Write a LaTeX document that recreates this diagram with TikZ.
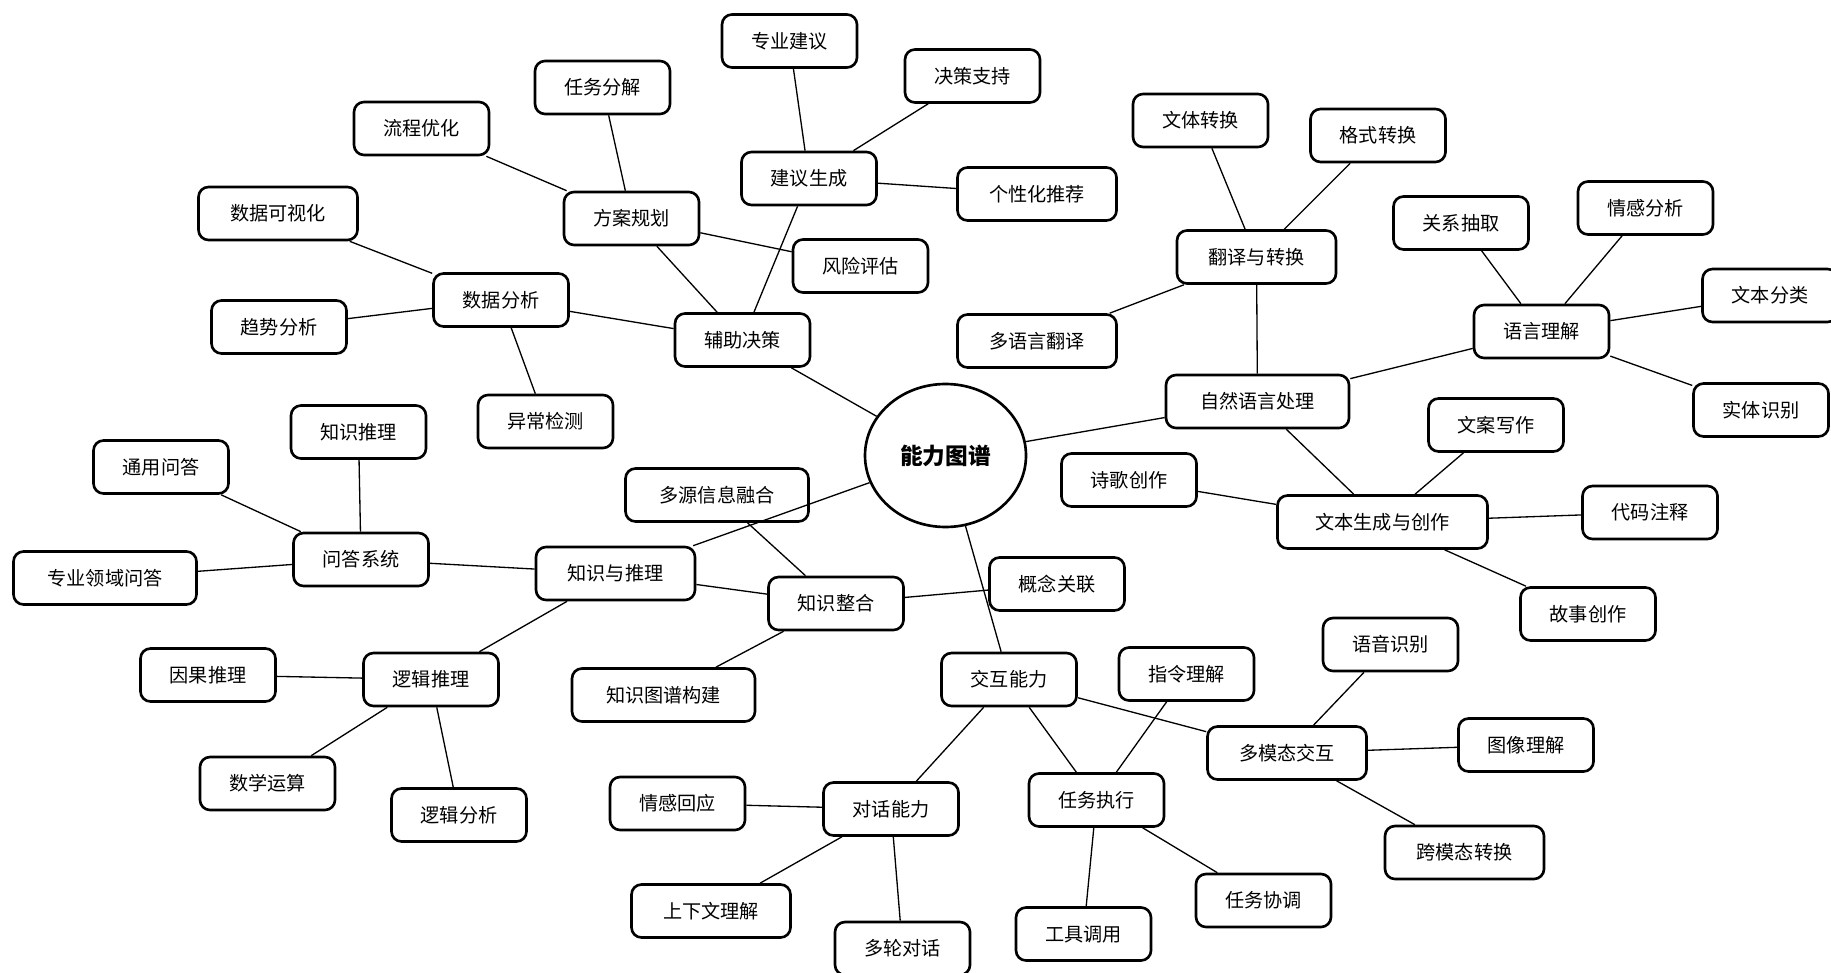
\documentclass[tikz,border=0pt]{standalone}
\usepackage{fontspec}
\usepackage{tikz}
\usetikzlibrary{shapes.geometric}
\newfontfamily\cjk{Noto Sans CJK SC}

\begin{document}
\begin{tikzpicture}[
		box/.style={draw, rounded corners=0.2cm, line width=1.5pt, minimum width=2.7cm, minimum height=1.06cm, font=\cjk\fontsize{10.9}{13}\selectfont},
		box5/.style={box, minimum width=3.18cm},
		box6/.style={box, minimum width=3.66cm},
		box7/.style={box, minimum width=4.2cm},
		hub/.style={ellipse, draw, line width=1.5pt, minimum width=3.22cm, minimum height=2.86cm, font=\cjk\bfseries\fontsize{12.9}{15}\selectfont},
		link/.style={line width=0.75pt}
	]
  \useasboundingbox (0cm, 0cm) rectangle (36.62cm, -19.46cm);
  \node (core) [hub] at (18.91cm, -9.11cm) {能力图谱};
  % aid branch
  \node (aid) [box] at (14.85cm, -6.80cm) {辅助决策};
  \node (plan) [box] at (12.63cm, -4.37cm) {方案规划};
  \node (advise) [box] at (16.18cm, -3.57cm) {建议生成};
  \node (data) [box] at (10.02cm, -6.00cm) {数据分析};
  \node (flow) [box] at (8.43cm, -2.57cm) {流程优化};
  \node (split) [box] at (12.05cm, -1.75cm) {任务分解};
  \node (risk) [box] at (17.21cm, -5.32cm) {风险评估};
  \node (expert) [box] at (15.79cm, -0.82cm) {专业建议};
  \node (support) [box] at (19.45cm, -1.52cm) {决策支持};
  \node (recommend) [box5] at (20.74cm, -3.88cm) {个性化推荐};
  \node (vis) [box5] at (5.56cm, -4.27cm) {数据可视化};
  \node (trend) [box] at (5.58cm, -6.54cm) {趋势分析};
  \node (anomaly) [box] at (10.91cm, -8.43cm) {异常检测};
  % nlp branch
  \node (nlp) [box6] at (25.15cm, -8.03cm) {自然语言处理};
  \node (trans) [box5] at (25.13cm, -5.14cm) {翻译与转换};
  \node (lu) [box] at (30.83cm, -6.63cm) {语言理解};
  \node (gen) [box7] at (27.65cm, -10.44cm) {文本生成与创作};
  \node (style_t) [box] at (24.01cm, -2.41cm) {文体转换};
  \node (format_t) [box] at (27.56cm, -2.71cm) {格式转换};
  \node (multi_t) [box5] at (20.74cm, -6.82cm) {多语言翻译};
  \node (rel) [box] at (29.22cm, -4.46cm) {关系抽取};
  \node (senti) [box] at (32.91cm, -4.16cm) {情感分析};
  \node (cls) [box] at (35.40cm, -5.91cm) {文本分类};
  \node (ner) [box] at (35.22cm, -8.20cm) {实体识别};
  \node (copy) [box] at (29.92cm, -8.50cm) {文案写作};
  \node (poem) [box] at (22.58cm, -9.60cm) {诗歌创作};
  \node (comment) [box] at (33.00cm, -10.25cm) {代码注释};
  \node (story) [box] at (31.76cm, -12.28cm) {故事创作};
  % knowledge branch
  \node (know) [box5] at (12.31cm, -11.47cm) {知识与推理};
  \node (qa) [box] at (7.22cm, -11.19cm) {问答系统};
  \node (logic) [box] at (8.62cm, -13.59cm) {逻辑推理};
  \node (merge) [box] at (16.72cm, -12.07cm) {知识整合};
  \node (k_infer) [box] at (7.17cm, -8.64cm) {知识推理};
  \node (qa_gen) [box] at (3.22cm, -9.34cm) {通用问答};
  \node (qa_dom) [box6] at (2.10cm, -11.56cm) {专业领域问答};
  \node (cause) [box] at (4.16cm, -13.50cm) {因果推理};
  \node (math) [box] at (5.35cm, -15.67cm) {数学运算};
  \node (l_ana) [box] at (9.18cm, -16.30cm) {逻辑分析};
  \node (fuse) [box6] at (14.34cm, -9.90cm) {多源信息融合};
  \node (concept) [box] at (21.14cm, -11.68cm) {概念关联};
  \node (kg) [box6] at (13.27cm, -13.90cm) {知识图谱构建};
  % interaction branch
  \node (inter) [box] at (20.18cm, -13.59cm) {交互能力};
  \node (dialog) [box] at (17.82cm, -16.18cm) {对话能力};
  \node (task) [box] at (21.93cm, -16.00cm) {任务执行};
  \node (mm) [box5] at (25.74cm, -15.06cm) {多模态交互};
  \node (emo) [box] at (13.55cm, -16.07cm) {情感回应};
  \node (ctx) [box5] at (14.22cm, -18.22cm) {上下文理解};
  \node (turns) [box] at (18.05cm, -18.97cm) {多轮对话};
  \node (instr) [box] at (23.73cm, -13.48cm) {指令理解};
  \node (tool) [box] at (21.67cm, -18.68cm) {工具调用};
  \node (coord) [box] at (25.27cm, -18.01cm) {任务协调};
  \node (asr) [box] at (27.81cm, -12.89cm) {语音识别};
  \node (img) [box] at (30.52cm, -14.90cm) {图像理解};
  \node (cross) [box5] at (29.29cm, -17.05cm) {跨模态转换};

  \draw [link] (core) -- (aid);
  \draw [link] (core) -- (nlp);
  \draw [link] (core) -- (know);
  \draw [link] (core) -- (inter);
  \draw [link] (aid) -- (plan);
  \draw [link] (aid) -- (advise);
  \draw [link] (aid) -- (data);
  \draw [link] (plan) -- (flow);
  \draw [link] (plan) -- (split);
  \draw [link] (plan) -- (risk);
  \draw [link] (advise) -- (expert);
  \draw [link] (advise) -- (support);
  \draw [link] (advise) -- (recommend);
  \draw [link] (data) -- (vis);
  \draw [link] (data) -- (trend);
  \draw [link] (data) -- (anomaly);
  \draw [link] (nlp) -- (trans);
  \draw [link] (nlp) -- (lu);
  \draw [link] (nlp) -- (gen);
  \draw [link] (trans) -- (style_t);
  \draw [link] (trans) -- (format_t);
  \draw [link] (trans) -- (multi_t);
  \draw [link] (lu) -- (rel);
  \draw [link] (lu) -- (senti);
  \draw [link] (lu) -- (cls);
  \draw [link] (lu) -- (ner);
  \draw [link] (gen) -- (copy);
  \draw [link] (gen) -- (poem);
  \draw [link] (gen) -- (comment);
  \draw [link] (gen) -- (story);
  \draw [link] (know) -- (qa);
  \draw [link] (know) -- (logic);
  \draw [link] (know) -- (merge);
  \draw [link] (qa) -- (k_infer);
  \draw [link] (qa) -- (qa_gen);
  \draw [link] (qa) -- (qa_dom);
  \draw [link] (logic) -- (cause);
  \draw [link] (logic) -- (math);
  \draw [link] (logic) -- (l_ana);
  \draw [link] (merge) -- (fuse);
  \draw [link] (merge) -- (concept);
  \draw [link] (merge) -- (kg);
  \draw [link] (inter) -- (dialog);
  \draw [link] (inter) -- (task);
  \draw [link] (inter) -- (mm);
  \draw [link] (dialog) -- (emo);
  \draw [link] (dialog) -- (ctx);
  \draw [link] (dialog) -- (turns);
  \draw [link] (task) -- (instr);
  \draw [link] (task) -- (tool);
  \draw [link] (task) -- (coord);
  \draw [link] (mm) -- (asr);
  \draw [link] (mm) -- (img);
  \draw [link] (mm) -- (cross);
\end{tikzpicture}
\end{document}
